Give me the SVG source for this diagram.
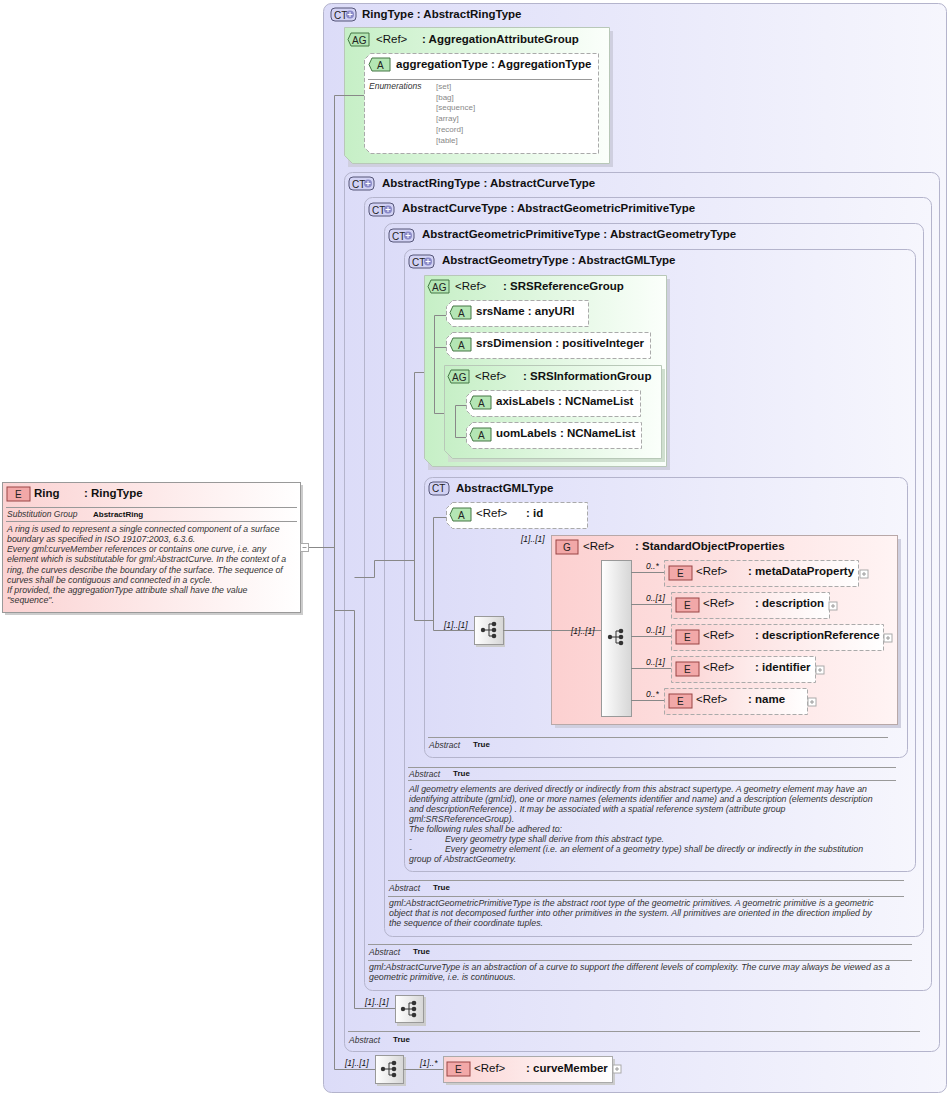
<svg xmlns="http://www.w3.org/2000/svg" width="951" height="1096" viewBox="0 0 951 1096">
<defs>
<linearGradient id="gCT" x1="0" y1="0" x2="1" y2="0"><stop offset="0" stop-color="#dcdcf8"/><stop offset="1" stop-color="#f6f6fd"/></linearGradient>
<linearGradient id="gAG" x1="0" y1="0" x2="1" y2="0"><stop offset="0" stop-color="#c6efc6"/><stop offset="1" stop-color="#fbfffb"/></linearGradient>
<linearGradient id="gE" x1="0" y1="0" x2="1" y2="0"><stop offset="0" stop-color="#fbd2d2"/><stop offset="1" stop-color="#ffffff"/></linearGradient>
<linearGradient id="gG" x1="0" y1="0" x2="1" y2="0"><stop offset="0" stop-color="#fcd0d0"/><stop offset="1" stop-color="#fff4f4"/></linearGradient>
<linearGradient id="gSeq" x1="0" y1="0" x2="1" y2="0"><stop offset="0" stop-color="#ffffff"/><stop offset="1" stop-color="#d6d6d6"/></linearGradient>
<g id="seqsym"><circle cx="-7" cy="0" r="2.2" fill="#333"/><path d="M-5 0H-1M-1 -6V6M-1 -6H3M-1 0H3M-1 6H3" stroke="#333" fill="none"/><circle cx="4" cy="-6" r="2.3" fill="#333"/><circle cx="4" cy="0" r="2.3" fill="#333"/><circle cx="4" cy="6" r="2.3" fill="#333"/></g>
<g id="ctp"><rect x="0" y="0" width="25" height="13" rx="4" fill="#d2d2f4" stroke="#555577"/><text x="3" y="10.5" class="bd">CT</text><circle cx="19" cy="6.5" r="4" fill="#8a8ac8"/><path d="M16.5 6.5H21.5M19 4V9" stroke="#fff"/></g>
<g id="ab"><path d="M3 0H21V13H3L0 6.5Z" fill="#b4e6b4" stroke="#447744"/><text x="8" y="10.5" class="bd">A</text></g>
<g id="agb"><path d="M3 0H21V13H3L0 6.5Z" fill="#b4e6b4" stroke="#447744"/><text x="4" y="10.5" class="bd">AG</text></g>
<g id="eb"><rect x="0" y="0" width="23" height="14" fill="#f2a8a8" stroke="#994444"/><text x="8" y="11" class="bd">E</text></g>
<g id="plus"><rect x="0" y="0" width="8" height="8" fill="#fff" stroke="#aaa"/><path d="M2 4H6M4 2V6" stroke="#999"/></g>
</defs>
<style>
text{font-family:"Liberation Sans",Arial,sans-serif;fill:#111}
.t{font-size:11.5px;font-weight:bold}
.r{font-size:11.5px}
.bd{font-size:10px;font-weight:normal;fill:#222}
.i{font-size:8.5px;font-style:italic;fill:#333}
.ib{font-size:8px;font-weight:bold;fill:#111}
.d{font-size:8.8px;font-style:italic;fill:#333}
.en{font-size:8px;fill:#888}
.card{font-size:8.5px;font-style:italic;fill:#111}
.ct{fill:url(#gCT);stroke:#b4b4cc;stroke-width:1}
.ag{fill:url(#gAG);stroke:#b8c8b8}
.dash{fill:#fff;stroke:#aaa;stroke-dasharray:4,2}
.ef{fill:url(#gE);stroke:#aaa;stroke-dasharray:4,2}
.sep{stroke:#999;stroke-width:1}
.ln{stroke:#888;fill:none}
.seq{fill:url(#gSeq);stroke:#999}
</style>

<g id="RingType">
<rect class="ct" x="323.5" y="3.5" width="623" height="1089" rx="8"/>
<use href="#ctp" x="331" y="8"/><text class="t" x="362" y="18">RingType : AbstractRingType</text>
</g>

<g id="AggregationAttributeGroup">
<rect x="348" y="31" width="265" height="136" fill="#cfcfdf"/>
<path class="ag" d="M344.5 27.5H609.5V163.5H352.5L344.5 155.5Z"/>
<use href="#agb" x="348" y="33"/><text class="r" x="376" y="43">&lt;Ref&gt;</text><text class="t" x="422" y="43">: AggregationAttributeGroup</text>
<path class="dash" d="M370.5 53.5H598.5V153.5H370.5L364.5 147.5V59.5Z"/>
<use href="#ab" x="369" y="58"/><text class="t" x="396" y="68">aggregationType : AggregationType</text>
<line class="sep" x1="368" y1="79.5" x2="592" y2="79.5"/>
<text class="i" x="369" y="89">Enumerations</text>
<text class="en" x="436" y="89">[set]</text><text class="en" x="436" y="100">[bag]</text><text class="en" x="436" y="110">[sequence]</text><text class="en" x="436" y="121">[array]</text><text class="en" x="436" y="132">[record]</text><text class="en" x="436" y="143">[table]</text>
</g>

<g id="AbstractRingType">
<rect class="ct" x="344.5" y="172.5" width="595" height="879" rx="8"/>
<use href="#ctp" x="349" y="177"/><text class="t" x="382" y="187">AbstractRingType : AbstractCurveType</text>
<line class="sep" x1="348" y1="1031.5" x2="920" y2="1031.5"/>
<text class="i" x="349" y="1043">Abstract</text><text class="ib" x="393" y="1042">True</text>
</g>

<g id="AbstractCurveType">
<rect class="ct" x="364.5" y="197.5" width="567" height="793" rx="8"/>
<use href="#ctp" x="369" y="203"/><text class="t" x="402" y="212">AbstractCurveType : AbstractGeometricPrimitiveType</text>
<line class="sep" x1="368" y1="944.5" x2="912" y2="944.5"/>
<text class="i" x="369" y="955">Abstract</text><text class="ib" x="413" y="954">True</text>
<line class="sep" x1="368" y1="960.5" x2="912" y2="960.5"/>
<text class="d" x="369" y="970">gml:AbstractCurveType is an abstraction of a curve to support the different levels of complexity. The curve may always be viewed as a</text>
<text class="d" x="369" y="980">geometric primitive, i.e. is continuous.</text>
</g>

<g id="AbstractGeometricPrimitiveType">
<rect class="ct" x="384.5" y="223.5" width="539" height="713" rx="8"/>
<use href="#ctp" x="389" y="229"/><text class="t" x="422" y="238">AbstractGeometricPrimitiveType : AbstractGeometryType</text>
<line class="sep" x1="388" y1="880.5" x2="904" y2="880.5"/>
<text class="i" x="389" y="891">Abstract</text><text class="ib" x="433" y="890">True</text>
<line class="sep" x1="388" y1="896.5" x2="904" y2="896.5"/>
<text class="d" x="389" y="906">gml:AbstractGeometricPrimitiveType is the abstract root type of the geometric primitives. A geometric primitive is a geometric</text>
<text class="d" x="389" y="916">object that is not decomposed further into other primitives in the system. All primitives are oriented in the direction implied by</text>
<text class="d" x="389" y="926">the sequence of their coordinate tuples.</text>
</g>

<g id="AbstractGeometryType">
<rect class="ct" x="404.5" y="249.5" width="511" height="622" rx="8"/>
<use href="#ctp" x="409" y="255"/><text class="t" x="442" y="264">AbstractGeometryType : AbstractGMLType</text>
<line class="sep" x1="408" y1="767.5" x2="896" y2="767.5"/>
<text class="i" x="409" y="777">Abstract</text><text class="ib" x="453" y="776">True</text>
<line class="sep" x1="408" y1="780.5" x2="896" y2="780.5"/>
<text class="d" x="409" y="792">All geometry elements are derived directly or indirectly from this abstract supertype. A geometry element may have an</text>
<text class="d" x="409" y="802">identifying attribute (gml:id), one or more names (elements identifier and name) and a description (elements description</text>
<text class="d" x="409" y="812">and descriptionReference) . It may be associated with a spatial reference system (attribute group</text>
<text class="d" x="409" y="822">gml:SRSReferenceGroup).</text>
<text class="d" x="409" y="832">The following rules shall be adhered to:</text>
<text class="d" x="409" y="842">-</text><text class="d" x="445" y="842">Every geometry type shall derive from this abstract type.</text>
<text class="d" x="409" y="852">-</text><text class="d" x="445" y="852">Every geometry element (i.e. an element of a geometry type) shall be directly or indirectly in the substitution</text>
<text class="d" x="409" y="862">group of AbstractGeometry.</text>
</g>

<g id="SRSReferenceGroup">
<rect x="428" y="279" width="242" height="191" fill="#cfcfdf"/>
<path class="ag" d="M424.5 275.5H666.5V466.5H432.5L424.5 458.5Z"/>
<use href="#agb" x="428" y="280"/><text class="r" x="455" y="290">&lt;Ref&gt;</text><text class="t" x="503" y="290">: SRSReferenceGroup</text>
</g>
<g id="srsName"><path class="dash" d="M452.5 300.5H588.5V326.5H452.5L446.5 320.5V306.5Z"/><use href="#ab" x="450" y="306"/><text class="t" x="476" y="315">srsName : anyURI</text></g>
<g id="srsDimension"><path class="dash" d="M452.5 332.5H650.5V358.5H452.5L446.5 352.5V338.5Z"/><use href="#ab" x="450" y="338"/><text class="t" x="476" y="347">srsDimension : positiveInteger</text></g>
<g id="SRSInformationGroup">
<rect x="448" y="369" width="217" height="93" fill="#cfdfcf"/>
<path class="ag" d="M444.5 365.5H661.5V458.5H452.5L444.5 450.5Z"/>
<use href="#agb" x="448" y="370"/><text class="r" x="475" y="380">&lt;Ref&gt;</text><text class="t" x="523" y="380">: SRSInformationGroup</text>
</g>
<g id="axisLabels"><path class="dash" d="M472.5 390.5H640.5V416.5H472.5L466.5 410.5V396.5Z"/><use href="#ab" x="470" y="396"/><text class="t" x="496" y="405">axisLabels : NCNameList</text></g>
<g id="uomLabels"><path class="dash" d="M472.5 422.5H641.5V448.5H472.5L466.5 442.5V428.5Z"/><use href="#ab" x="470" y="428"/><text class="t" x="496" y="437">uomLabels : NCNameList</text></g>

<g id="AbstractGMLType">
<rect class="ct" x="424.5" y="477.5" width="483" height="280" rx="8"/>
<rect x="429" y="482" width="20" height="13" rx="4" fill="#d2d2f4" stroke="#555577"/><text class="bd" x="432" y="492">CT</text>
<text class="t" x="456" y="492">AbstractGMLType</text>
<line class="sep" x1="428" y1="737.5" x2="888" y2="737.5"/>
<text class="i" x="429" y="748">Abstract</text><text class="ib" x="473" y="747">True</text>
</g>
<g id="id"><path class="dash" d="M452.5 502.5H587.5V528.5H452.5L446.5 522.5V508.5Z"/><use href="#ab" x="450" y="508"/><text class="r" x="476" y="517">&lt;Ref&gt;</text><text class="t" x="526" y="517">: id</text></g>

<g id="StandardObjectProperties">
<rect x="555" y="539" width="346" height="189" fill="#cfcfdf"/>
<rect x="551.5" y="535.5" width="346" height="189" fill="url(#gG)" stroke="#b8a8a8"/>
<rect x="556" y="540" width="22" height="14" fill="#f2a8a8" stroke="#994444"/><text class="bd" x="563" y="551">G</text>
<text class="r" x="583" y="550">&lt;Ref&gt;</text><text class="t" x="635" y="550">: StandardObjectProperties</text>
<text class="card" x="521" y="542">[1]..[1]</text>
<rect class="seq" x="601.5" y="560.5" width="30" height="156"/>
<use href="#seqsym" x="617" y="637"/>
</g>
<g id="metaDataProperty"><rect class="ef" x="664.5" y="560.5" width="194" height="26"/><use href="#eb" x="669" y="566"/><text class="r" x="696" y="575">&lt;Ref&gt;</text><text class="t" x="748" y="575">: metaDataProperty</text><use href="#plus" x="860" y="570"/></g>
<g id="description"><rect class="ef" x="671.5" y="592.5" width="158" height="26"/><use href="#eb" x="676" y="598"/><text class="r" x="703" y="607">&lt;Ref&gt;</text><text class="t" x="755" y="607">: description</text><use href="#plus" x="829" y="602"/></g>
<g id="descriptionReference"><rect class="ef" x="671.5" y="624.5" width="212" height="26"/><use href="#eb" x="676" y="630"/><text class="r" x="703" y="639">&lt;Ref&gt;</text><text class="t" x="755" y="639">: descriptionReference</text><use href="#plus" x="884" y="634"/></g>
<g id="identifier"><rect class="ef" x="671.5" y="656.5" width="144" height="26"/><use href="#eb" x="676" y="662"/><text class="r" x="703" y="671">&lt;Ref&gt;</text><text class="t" x="755" y="671">: identifier</text><use href="#plus" x="816" y="666"/></g>
<g id="name"><rect class="ef" x="664.5" y="688.5" width="143" height="26"/><use href="#eb" x="669" y="694"/><text class="r" x="696" y="703">&lt;Ref&gt;</text><text class="t" x="748" y="703">: name</text><use href="#plus" x="808" y="698"/></g>

<g id="seqGML"><rect x="476" y="618" width="29" height="29" fill="#ccc"/><rect class="seq" x="474.5" y="616.5" width="29" height="28"/><use href="#seqsym" x="490" y="630"/></g>
<g id="seqRing"><rect x="397" y="997" width="29" height="29" fill="#ccc"/><rect class="seq" x="395.5" y="995.5" width="28" height="27"/><use href="#seqsym" x="410" y="1009"/></g>
<g id="seqBottom"><rect x="377" y="1057" width="29" height="29" fill="#ccc"/><rect class="seq" x="375.5" y="1055.5" width="28" height="28"/><use href="#seqsym" x="390" y="1069"/></g>
<g id="curveMember"><rect x="446" y="1059" width="169" height="26" fill="#ccc"/><rect x="443.5" y="1056.5" width="169" height="26" fill="url(#gE)" stroke="#aaa"/><use href="#eb" x="447" y="1062"/><text class="r" x="474" y="1072">&lt;Ref&gt;</text><text class="t" x="526" y="1072">: curveMember</text><use href="#plus" x="613" y="1065"/></g>

<g id="Ring">
<rect x="5" y="485" width="298" height="130" fill="#ccc"/>
<rect x="2.5" y="482.5" width="298" height="130" fill="url(#gE)" stroke="#999"/>
<use href="#eb" x="7" y="487"/><text class="t" x="34" y="497">Ring</text><text class="t" x="84" y="497">: RingType</text>
<line class="sep" x1="6" y1="507.5" x2="297" y2="507.5"/>
<text class="i" x="7" y="517">Substitution Group</text><text class="ib" x="93" y="517">AbstractRing</text>
<line class="sep" x1="6" y1="521.5" x2="297" y2="521.5"/>
<text class="d" x="7" y="532">A ring is used to represent a single connected component of a surface</text>
<text class="d" x="7" y="542">boundary as specified in ISO 19107:2003, 6.3.6.</text>
<text class="d" x="7" y="552">Every gml:curveMember references or contains one curve, i.e. any</text>
<text class="d" x="7" y="562">element which is substitutable for gml:AbstractCurve. In the context of a</text>
<text class="d" x="7" y="573">ring, the curves describe the boundary of the surface. The sequence of</text>
<text class="d" x="7" y="583">curves shall be contiguous and connected in a cycle.</text>
<text class="d" x="7" y="593">If provided, the aggregationType attribute shall have the value</text>
<text class="d" x="7" y="603">"sequence".</text>
<rect x="300.5" y="543.5" width="8" height="8" fill="#fff" stroke="#aaa"/><path d="M302.5 547.5H306.5" stroke="#999"/>
</g>

<g id="connectors" class="ln">
<path d="M309 547.5H334.5"/>
<path d="M334.5 95.5V1069.5M334.5 95.5H364M334.5 1069.5H375"/>
<path d="M334.5 610.5H354.5V1008.5H395"/>
<path d="M354.5 577.5H374.5V560.5H414.5"/>
<path d="M414.5 372.5V620.5M414.5 372.5H424M414.5 620.5H433.5"/>
<path d="M433.5 517.5V630.5H474M433.5 517.5H446"/>
<path d="M434.5 315.5V413.5H444M434.5 315.5H446M434.5 347.5H446"/>
<path d="M455.5 405.5V437.5H466M455.5 405.5H466"/>
<path d="M503 630.5H601"/>
<path d="M631 572.5H664M631 604.5H671M631 636.5H671M631 668.5H671M631 700.5H664"/>
<path d="M403 1069.5H443"/>
</g>
<g id="cards">
<text class="card" x="444" y="628">[1]..[1]</text>
<text class="card" x="571" y="634">[1]..[1]</text>
<text class="card" x="646" y="569">0..*</text>
<text class="card" x="646" y="601">0..[1]</text>
<text class="card" x="646" y="633">0..[1]</text>
<text class="card" x="646" y="665">0..[1]</text>
<text class="card" x="646" y="697">0..*</text>
<text class="card" x="365" y="1005">[1]..[1]</text>
<text class="card" x="345" y="1066">[1]..[1]</text>
<text class="card" x="420" y="1066">[1]..*</text>
</g>
</svg>
